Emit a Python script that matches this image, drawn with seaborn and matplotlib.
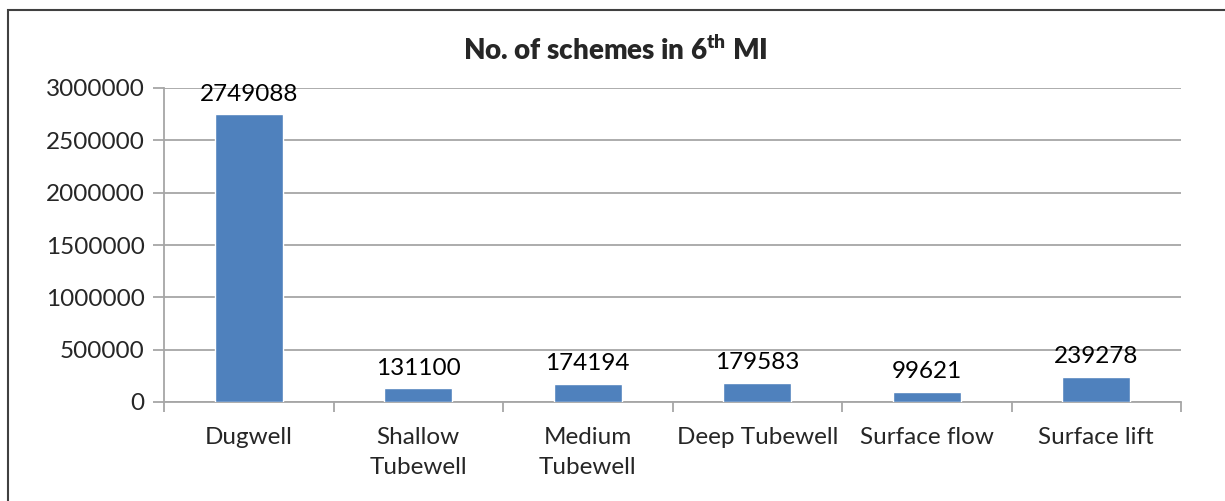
import matplotlib
matplotlib.use("Agg")
import matplotlib.pyplot as plt
import seaborn as sns
import pandas as pd
from matplotlib.patches import Rectangle
from matplotlib.ticker import FuncFormatter, FixedLocator

# Data
categories = ["Dugwell", "Shallow\nTubewell", "Medium\nTubewell", "Deep Tubewell", "Surface flow", "Surface lift"]
schemes = [2749088, 131100, 174194, 179583, 99621, 239278]
y_ticks = [0, 500000, 1000000, 1500000, 2000000, 2500000, 3000000]

df = pd.DataFrame({"scheme": categories, "count": schemes})

sns.set_style("white")
plt.rcParams['font.family'] = ['Lato', 'DejaVu Sans']
plt.rcParams['mathtext.default'] = 'regular'

fs = 17.5

fig = plt.figure(figsize=(12.25, 5.01), dpi=100)
ax = fig.add_axes([164 / 1225, 1 - 402 / 501, (1181 - 164) / 1225, (402 - 88) / 501])

sns.barplot(data=df, x="scheme", y="count", color="#4F81BD", width=0.4, saturation=1, ax=ax, zorder=3)

# value labels above bars
for i, v in enumerate(schemes):
    ax.annotate(str(v), (i, v), xytext=(0, 7), textcoords="offset points",
                ha="center", va="bottom", fontsize=fs, color="black")

ax.set_xlim(-0.5, len(categories) - 0.5)
ax.set_ylim(0, 3000000)
ax.yaxis.set_major_locator(FixedLocator(y_ticks))
ax.yaxis.set_major_formatter(FuncFormatter(lambda v, p: f"{int(v)}"))
ax.grid(axis="y", color="#A6A6A6", linewidth=1.3, zorder=0)
ax.set_axisbelow(True)

ax.set_xlabel("")
ax.set_ylabel("")
for s in ["top", "right"]:
    ax.spines[s].set_visible(False)
for s in ["left", "bottom"]:
    ax.spines[s].set_color("#A6A6A6")
    ax.spines[s].set_linewidth(1.3)

ax.tick_params(axis="y", length=8, width=1.3, color="#A6A6A6", labelsize=fs, pad=6, direction="out", left=True)
ax.set_xticks(range(len(categories)))
ax.tick_params(axis="x", which="major", length=0, labelbottom=False)
ax.set_xticks([i - 0.5 for i in range(len(categories) + 1)], minor=True)
ax.tick_params(axis="x", which="minor", length=7, width=1.3, color="#A6A6A6", direction="out", bottom=True)

# category labels, one line at a time so the line gap matches the original
for i, c in enumerate(categories):
    for k, line in enumerate(c.split("\n")):
        ax.annotate(line, (i, 0), xycoords=("data", "axes fraction"), xytext=(0, -24 - 21.6 * k),
                    textcoords="offset points", ha="center", va="center_baseline", fontsize=fs,
                    annotation_clip=False)

fig.text(615 / 1225, 1 - 50 / 501, "No. of schemes in 6$^{th}$ MI", ha="center", va="center",
         fontsize=20, fontweight="heavy")

# chart area border (only left and top visible in the crop)
fig.add_artist(Rectangle((8 / 1225, -0.1), 1.2, 1.1 - 10 / 501, transform=fig.transFigure,
                         fill=False, edgecolor="#404040", linewidth=1.5))

fig.savefig("out.png", dpi=100)
